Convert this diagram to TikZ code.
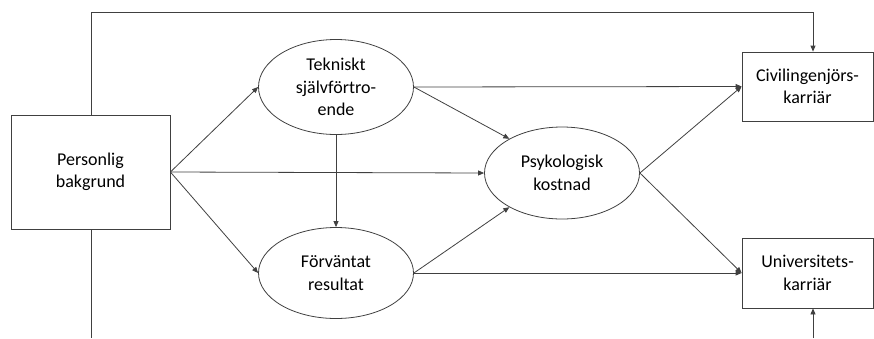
\documentclass[tikz,border=0pt]{standalone}
\usepackage{fontspec}
\setmainfont{Carlito}
\usetikzlibrary{shapes.geometric,arrows.meta}
\begin{document}
\begin{tikzpicture}[x=1pt,y=-1pt,
  every node/.style={font=\fontsize{18}{22.5}\selectfont, align=center, text=black},
  boxnode/.style={draw=black!75, line width=0.8pt, rectangle, inner sep=0pt},
  ellnode/.style={draw=black!75, line width=0.8pt, ellipse, inner sep=0pt},
  conn/.style={draw=black!75, line width=0.8pt},
  arr/.style={conn, -{Triangle[length=6pt,width=5pt]}}]
\useasboundingbox (0,0) rectangle (874,338);
\node[boxnode, minimum width=159pt, minimum height=114pt] (pb) at (90.5,172) {Personlig\\bakgrund};
\node[ellnode, minimum width=155pt, minimum height=95pt] (tek) at (336,87) {Tekniskt\\självförtro-\\ende};
\node[ellnode, minimum width=155pt, minimum height=91pt] (for) at (336,273) {Förväntat\\resultat};
\node[ellnode, minimum width=155pt, minimum height=92pt] (psy) at (562,173) {Psykologisk\\kostnad};
\node[boxnode, minimum width=131pt, minimum height=69pt] (civ) at (807.5,86.5) {Civilingenjörs-\\karriär};
\node[boxnode, minimum width=131pt, minimum height=70pt] (uni) at (807.5,273) {Universitets-\\karriär};
\coordinate (topL) at (91,12);
\coordinate (topR) at (813,12);
\coordinate (botL) at (91,338);
\coordinate (botR) at (813,338);
\draw[arr] (pb.east) -- (tek.west);
\draw[arr] (pb.east) -- (for.west);
\draw[arr] (pb.east) -- (psy.west);
\draw[arr] (tek.south) -- (for.north);
\draw[arr] (tek.east) -- (civ.west);
\draw[arr] (tek.east) -- (psy.147);
\draw[arr] (for.east) -- (uni.west);
\draw[arr] (for.east) -- (psy.213);
\draw[arr] (psy.east) -- (civ.west);
\draw[arr] (psy.east) -- (uni.west);
\draw[conn] (pb.north -| topL) -- (topL) -- (topR);
\draw[arr] (topR) -- (civ.north -| topR);
\draw[conn] (pb.south -| botL) -- (botL);
\draw[arr] (botR) -- (uni.south -| botR);
\end{tikzpicture}
\end{document}
